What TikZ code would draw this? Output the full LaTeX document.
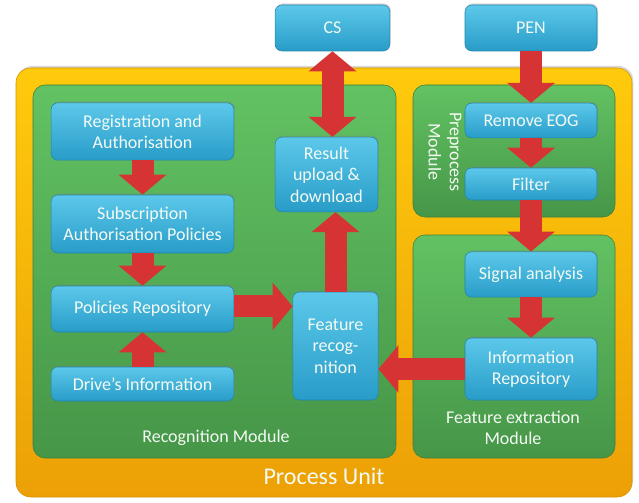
\documentclass[tikz,border=0pt]{standalone}
\usepackage{fontspec}
\setmainfont{Carlito}
\usetikzlibrary{arrows.meta,shadows}

\definecolor{unittop}{RGB}{255,202,12}
\definecolor{unitbot}{RGB}{236,160,6}
\definecolor{modtop}{RGB}{98,194,98}
\definecolor{modbot}{RGB}{70,150,72}
\definecolor{blktop}{RGB}{92,200,234}
\definecolor{blkbot}{RGB}{40,156,200}
\definecolor{arw}{RGB}{214,52,52}
\definecolor{txt}{RGB}{244,250,244}

\tikzset{
  blk/.style={rounded corners=5pt, top color=blktop, bottom color=blkbot, draw=blkbot!85!black,
    line width=0.4pt, text=txt, align=center, inner sep=1pt,
    font=\fontsize{13.5}{16}\selectfont,
    drop shadow={shadow xshift=0.8pt, shadow yshift=1.2pt, opacity=0.3}},
  modbox/.style={rounded corners=9pt, top color=modtop, bottom color=modbot, draw=modbot!85!black, line width=0.4pt},
  modlabel/.style={text=txt, align=center, font=\fontsize{13.5}{16}\selectfont},
  flow/.style={line width=16.5pt, color=arw, -{Triangle[width=35pt,length=15pt]}},
  flowboth/.style={line width=16.5pt, color=arw, {Triangle[width=35pt,length=15pt]}-{Triangle[width=35pt,length=15pt]}}
}

\begin{document}
\begin{tikzpicture}[x=0.75pt,y=0.75pt,yscale=-1,xscale=1]
\useasboundingbox (0,0) rectangle (639,503);

%Process unit (outer frame)
\draw [rounded corners=11pt, top color=unittop, bottom color=unitbot, draw=unitbot!90!black, line width=0.4pt,
  drop shadow={shadow xshift=1pt, shadow yshift=1.5pt, opacity=0.3}] (16,68) rectangle (632,497);
%Modules
\draw [modbox] (33,85) rectangle (396,458);
\draw [modbox] (413,85) rectangle (615,217);
\draw [modbox] (413,235) rectangle (615,458);

%Outside sources
\node [blk, minimum width=86pt, minimum height=34.5pt] (cs) at (332.5,28) {CS};
\node [blk, minimum width=99pt, minimum height=34.5pt] (pen) at (531,28) {PEN};

%Recognition module blocks
\node [blk, minimum width=137pt, minimum height=43pt] (reg) at (142.5,131.5) {Registration and\\Authorisation};
\node [blk, minimum width=137pt, minimum height=43.5pt] (sub) at (142.5,224) {Subscription\\Authorisation Policies};
\node [blk, minimum width=137pt, minimum height=34.5pt] (pol) at (142.5,309) {Policies Repository};
\node [blk, minimum width=137pt, minimum height=25.5pt] (drv) at (142.5,384) {Drive's Information};
\node [blk, minimum width=77pt, minimum height=56pt] (res) at (326.5,174.5) {Result\\upload \&\\download};
\node [blk, minimum width=64pt, minimum height=81pt] (rec) at (335.5,346) {Feature\\recog-\\nition};

%Preprocess and feature extraction blocks
\node [blk, minimum width=99pt, minimum height=26pt] (eog) at (531,120.5) {Remove EOG};
\node [blk, minimum width=99pt, minimum height=24pt] (fil) at (531,184) {Filter};
\node [blk, minimum width=99pt, minimum height=34pt] (sig) at (531,274.5) {Signal analysis};
\node [blk, minimum width=99pt, minimum height=46.5pt] (inf) at (531,369) {Information\\Repository};

%Labels
\node [modlabel] (reclbl) at (216,438) {Recognition Module};
\node [modlabel, rotate=-90] (prelbl) at (445,152) {Preprocess\\Module};
\node [modlabel] (fealbl) at (513,428) {Feature extraction\\Module};
\node [text=txt, font=\fontsize{18}{20}\selectfont] (unitlbl) at (324,476) {Process Unit};

%Flow arrows
\draw [flowboth] (cs.south) -- (cs.south |- res.north);
\draw [flow] (pen.south) -- (eog.north);
\draw [flow] (eog.south) -- (fil.north);
\draw [flow] (fil.south) -- (sig.north);
\draw [flow] (sig.south) -- (inf.north);
\draw [flow] (inf.west) -- (inf.west -| rec.east);
\draw [flow] (reg.south) -- (sub.north);
\draw [flow] (sub.south) -- (pol.north);
\draw [flow] (drv.north) -- (pol.south);
\draw [flow] ([yshift=-2pt]pol.east) -- ([yshift=-2pt]pol.east -| rec.west);
\draw [flow] (rec.north) -- (rec.north |- res.south);

\end{tikzpicture}
\end{document}
